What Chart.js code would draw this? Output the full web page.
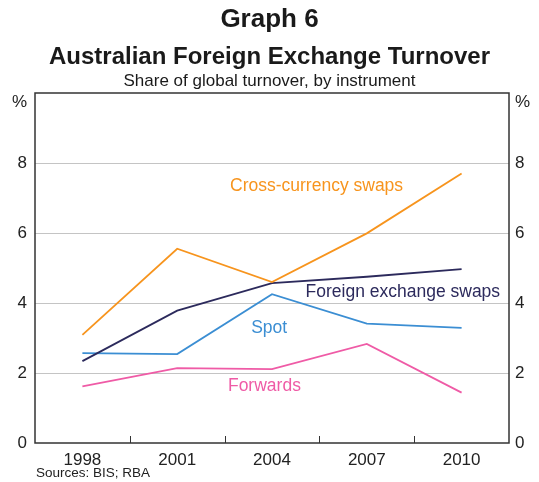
<!DOCTYPE html>
<html>
<head>
<meta charset="utf-8">
<script src="https://cdn.jsdelivr.net/npm/chart.js@4"></script>
<style>
html,body{margin:0;padding:0;background:#fff;}
#wrap{width:539px;height:482px;position:relative;}
</style>
</head>
<body>
<div id="wrap"><canvas id="c" width="539" height="482"></canvas></div>
<script>
// ---- Data ----
const years = ['1998', '2001', '2004', '2007', '2010'];
const crossCurrencySwaps = [3.09, 5.55, 4.60, 5.99, 7.70];
const fxSwaps = [2.34, 3.78, 4.57, 4.75, 4.97];
const spot = [2.57, 2.54, 4.25, 3.41, 3.29];
const forwards = [1.62, 2.14, 2.11, 2.83, 1.44];
const yTicks = [0, 2, 4, 6, 8, 10];

const seriesNames = ['Cross-currency swaps', 'Foreign exchange swaps', 'Spot', 'Forwards'];
const seriesColors = ['#F7941D', '#2C2A5C', '#3B8ED3', '#EF5BA6'];

// label anchors in data units (category index, value) – layout only
const labelAnchors = [
  {i: 2.47, v: 7.21},
  {i: 3.38, v: 4.18},
  {i: 1.97, v: 3.14},
  {i: 1.92, v: 1.49}
];

const FONT = '"Liberation Sans", Arial, Helvetica, sans-serif';

const deco = {
  id: 'deco',
  beforeDraw(chart) {
    const ctx = chart.ctx;
    ctx.save();
    ctx.fillStyle = '#fff';
    ctx.fillRect(0, 0, chart.width, chart.height);
    ctx.restore();
  },
  afterDraw(chart) {
    const ctx = chart.ctx;
    const a = chart.chartArea;
    const x = chart.scales.x;
    const y = chart.scales.y;
    ctx.save();
    // frame
    ctx.strokeStyle = '#333';
    ctx.lineWidth = 1.5;
    ctx.strokeRect(a.left, a.top, a.right - a.left, a.bottom - a.top);
    // inward tick marks at category boundaries
    ctx.lineWidth = 1;
    for (let k = 1; k < years.length; k++) {
      const px = Math.round((x.getPixelForValue(k - 1) + x.getPixelForValue(k)) / 2) + 0.5;
      ctx.beginPath();
      ctx.moveTo(px, a.bottom);
      ctx.lineTo(px, a.bottom - 7);
      ctx.stroke();
    }
    // titles
    ctx.fillStyle = '#1a1a1a';
    ctx.textAlign = 'center';
    ctx.textBaseline = 'alphabetic';
    const cx = chart.width / 2;
    ctx.font = 'bold 26px ' + FONT;
    ctx.fillText('Graph 6', cx, 27);
    ctx.font = 'bold 24px ' + FONT;
    ctx.fillText('Australian Foreign Exchange Turnover', cx, 64);
    ctx.font = '17px ' + FONT;
    ctx.fillText('Share of global turnover, by instrument', cx, 86);
    // % units
    ctx.fillStyle = '#222';
    ctx.textAlign = 'right';
    ctx.fillText('%', a.left - 8, 107);
    ctx.textAlign = 'left';
    ctx.fillText('%', a.right + 6, 107);
    // sources
    ctx.font = '13.5px ' + FONT;
    ctx.fillText('Sources: BIS; RBA', 36, 477);
    // series labels
    ctx.font = '17.5px ' + FONT;
    ctx.textAlign = 'center';
    for (let s = 0; s < seriesNames.length; s++) {
      const an = labelAnchors[s];
      const px = x.getPixelForValue(0) + an.i * (x.getPixelForValue(1) - x.getPixelForValue(0));
      const py = y.getPixelForValue(an.v);
      ctx.fillStyle = seriesColors[s];
      ctx.fillText(seriesNames[s], px, py);
    }
    ctx.restore();
  }
};

const seriesData = [crossCurrencySwaps, fxSwaps, spot, forwards];

new Chart(document.getElementById('c'), {
  type: 'line',
  data: {
    labels: years,
    datasets: seriesData.map((d, s) => ({
      label: seriesNames[s],
      data: d,
      borderColor: seriesColors[s],
      borderWidth: 1.8,
      pointRadius: 0,
      tension: 0,
      fill: false
    }))
  },
  options: {
    responsive: false,
    animation: false,
    devicePixelRatio: 1,
    layout: {padding: {top: 93, left: 0, right: 0, bottom: 0}},
    plugins: {legend: {display: false}, tooltip: {enabled: false}, title: {display: false}},
    scales: {
      x: {
        type: 'category',
        offset: true,
        grid: {display: false, drawTicks: false},
        border: {display: false},
        ticks: {color: '#222', font: {family: FONT, size: 17}, padding: 7, maxRotation: 0},
        afterFit(scale) { scale.height = 39; }
      },
      y: {
        position: 'left',
        min: 0, max: 10,
        afterBuildTicks(scale) { scale.ticks = yTicks.map(v => ({value: v})); },
        grid: {
          drawTicks: false,
          color: ctx => (ctx.tick && (ctx.tick.value === 0 || ctx.tick.value === 10)) ? 'rgba(0,0,0,0)' : '#c4c4c4',
          lineWidth: 1
        },
        border: {display: false},
        ticks: {
          color: '#222', font: {family: FONT, size: 17}, padding: 8,
          callback: v => (v === 10 ? '' : String(v))
        },
        afterFit(scale) { scale.width = 35; }
      },
      y2: {
        position: 'right',
        min: 0, max: 10,
        afterBuildTicks(scale) { scale.ticks = yTicks.map(v => ({value: v})); },
        grid: {display: false, drawTicks: false},
        border: {display: false},
        ticks: {
          color: '#222', font: {family: FONT, size: 17}, padding: 6,
          callback: v => (v === 10 ? '' : String(v))
        },
        afterFit(scale) { scale.width = 30; }
      }
    }
  },
  plugins: [deco]
});
</script>
</body>
</html>
